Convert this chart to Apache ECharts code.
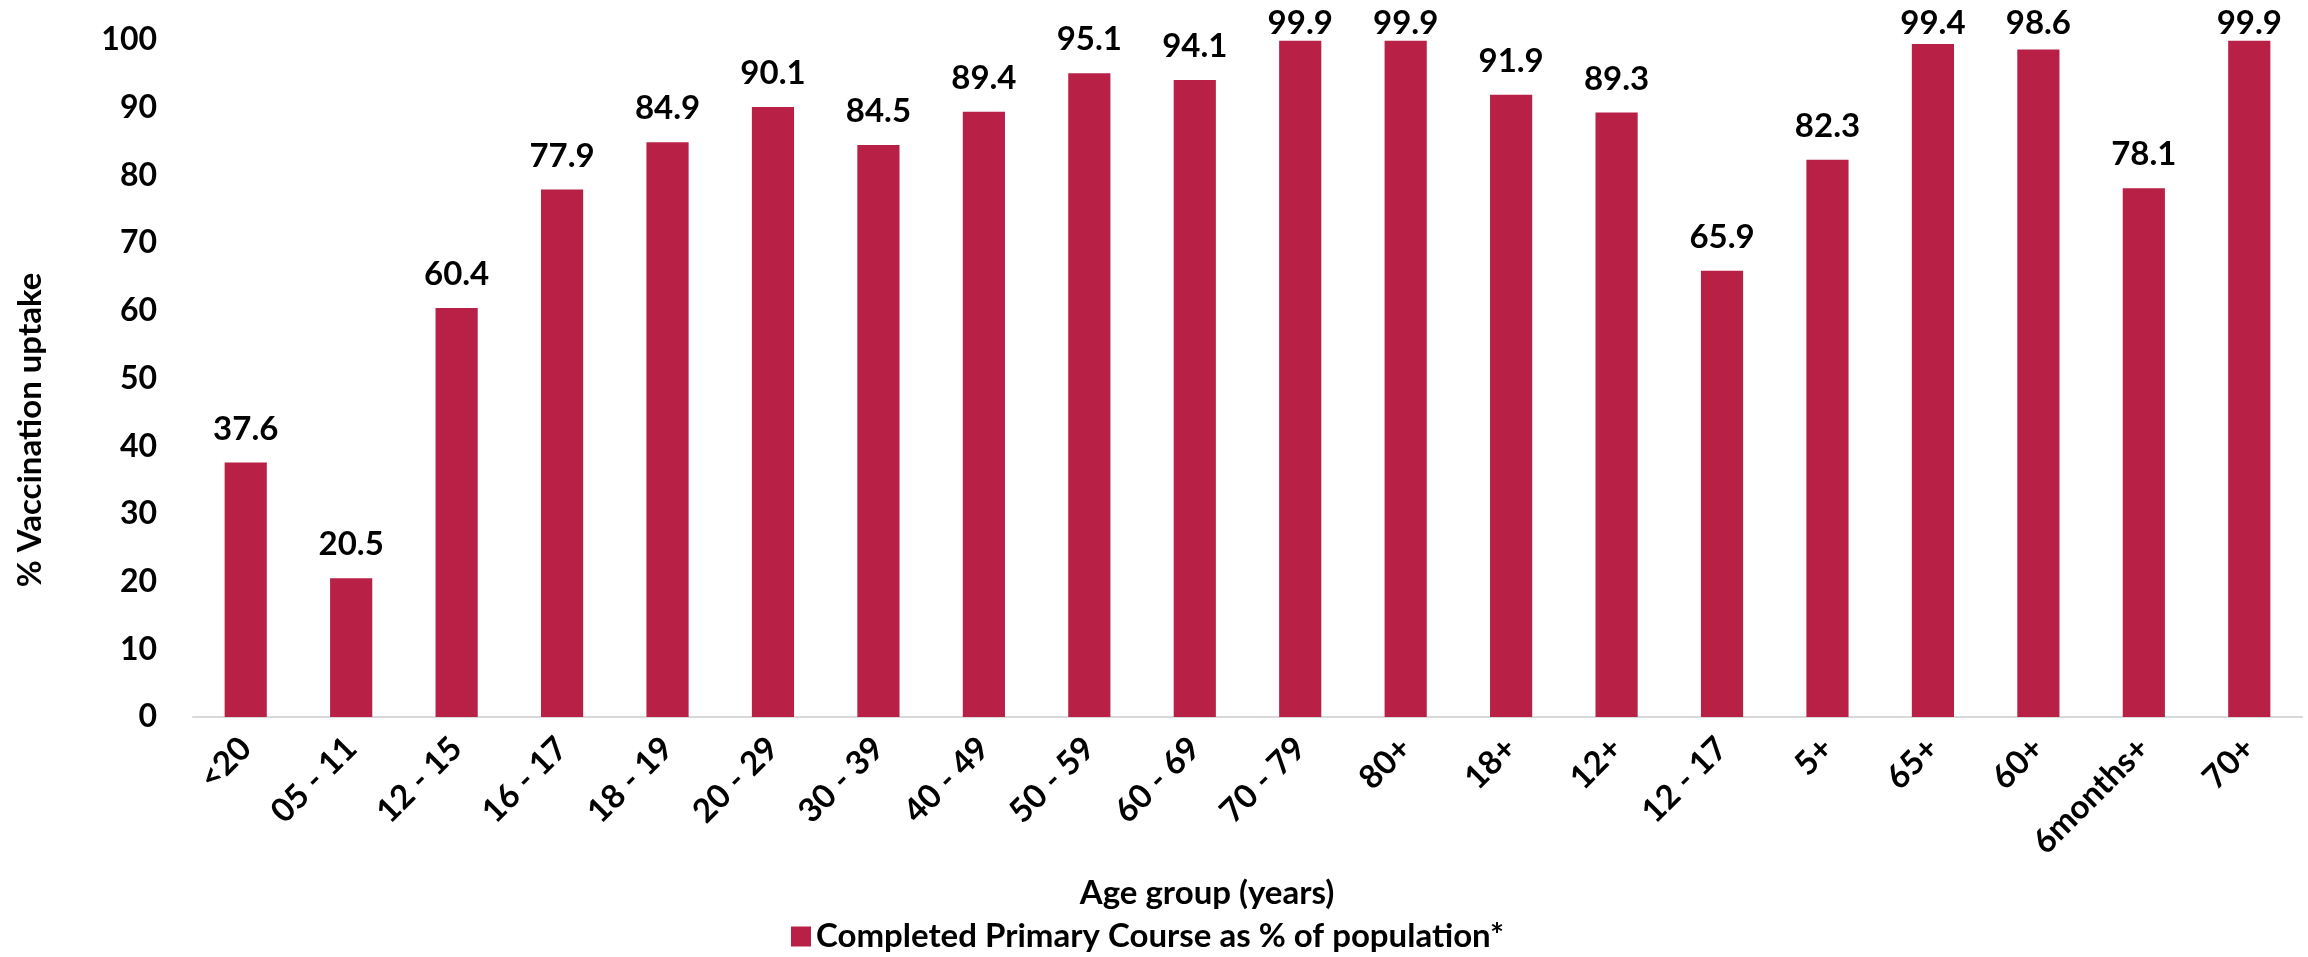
<!DOCTYPE html>
<html><head><meta charset="utf-8">
<script src="https://cdn.jsdelivr.net/npm/echarts@6/dist/echarts.min.js"></script>
<style>html,body{margin:0;padding:0;background:#fff}#c{width:2308px;height:957px}</style>
</head><body><div id="c"></div>
<script>
const categories = ['<20','05 - 11','12 - 15','16 - 17','18 - 19','20 - 29','30 - 39','40 - 49','50 - 59','60 - 69','70 - 79','80+','18+','12+','12 - 17','5+','65+','60+','6months+','70+'];
const values = [37.6,20.5,60.4,77.9,84.9,90.1,84.5,89.4,95.1,94.1,99.9,99.9,91.9,89.3,65.9,82.3,99.4,98.6,78.1,99.9];
const seriesName = 'Completed Primary Course as % of population*';
const yTitle = '% Vaccination uptake';
const xTitle = 'Age group (years)';
const FONT = 'Lato';
const LABEL_MIN_TOP = 7;
const chart = echarts.init(document.getElementById('c'));
chart.setOption({
  animation:false,
  textStyle:{fontFamily:FONT},
  grid:{left:193,right:6,top:40,bottom:240,containLabel:false},
  xAxis:{type:'category',data:categories,
    axisLine:{lineStyle:{color:'#d9d9d9',width:2}},
    axisTick:{show:false},
    axisLabel:{rotate:45,interval:0,margin:26,color:'#000',fontFamily:FONT,fontWeight:'bold',fontSize:33}},
  yAxis:{type:'value',min:0,max:100,interval:10,
    splitLine:{show:false},axisLine:{show:false},axisTick:{show:false},
    axisLabel:{margin:36,color:'#000',fontFamily:FONT,fontWeight:'bold',fontSize:32}},
  legend:{data:[seriesName],left:786,top:915,itemWidth:20,itemHeight:20,itemGap:10,
    icon:'rect',textStyle:{color:'#000',fontFamily:FONT,fontWeight:'bold',fontSize:33}},
  graphic:[
    {type:'text',x:30,y:430,rotation:Math.PI/2,style:{text:yTitle,fill:'#000',font:'bold 33px '+FONT,align:'center',verticalAlign:'middle'}},
    {type:'text',x:1207,y:893,style:{text:xTitle,fill:'#000',font:'bold 33px '+FONT,align:'center',verticalAlign:'middle'}}
  ],
  series:[{name:seriesName,type:'bar',data:values,barWidth:'40%',
    itemStyle:{color:'#B82046'},
    label:{show:true,position:'top',distance:17,color:'#000',fontFamily:FONT,fontWeight:'bold',fontSize:33,
      formatter:p=>p.value.toFixed(1)},
    labelLayout:function(p){
      if (p.labelRect.y < LABEL_MIN_TOP) return {dy: LABEL_MIN_TOP - p.labelRect.y};
      return {};
    }}]
});
</script></body></html>
